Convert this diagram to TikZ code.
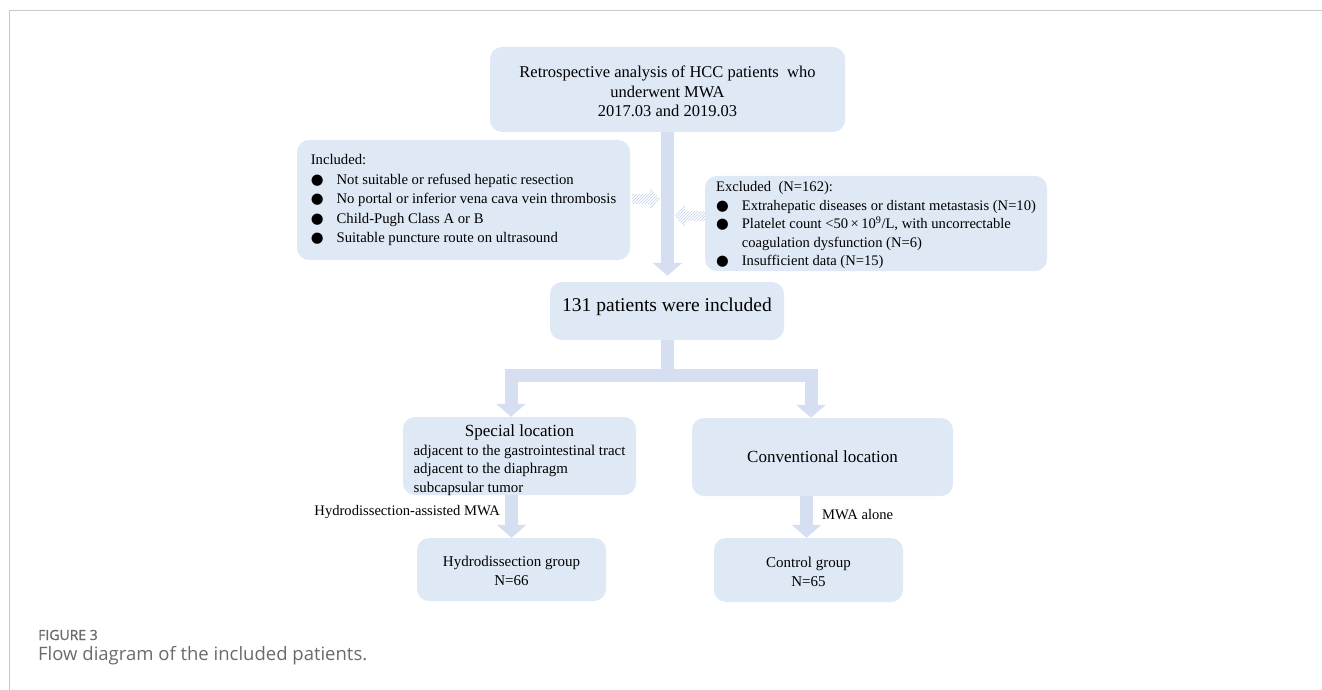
\documentclass[tikz,border=0pt]{standalone}
\usepackage{fontspec}
\setmainfont{Liberation Serif}
\newfontfamily\capfont{Open Sans}
\newfontfamily\capboldfont{Open Sans}[FakeBold=0.8]
\newfontfamily\symfont{DejaVu Sans}
\usetikzlibrary{arrows.meta,patterns,calc}

\definecolor{boxblue}{HTML}{DEE9F5}
\definecolor{arrowblue}{HTML}{D6DFF2}
\definecolor{hatchblue}{HTML}{C3CFEA}
\definecolor{framegray}{HTML}{C8C8C8}
\definecolor{capgray}{HTML}{6A6A6A}

\newcommand{\bul}{{\symfont\char"25CF}}

\begin{document}
\begin{tikzpicture}[
  x = 1pt, y = -1pt,
  box/.style = {
    fill = boxblue, rounded corners = 12pt,
    inner sep = 0pt, align = center
  },
  flow/.style = {
    draw = arrowblue, line width = 13pt, line join = miter,
    -{Triangle[length=13pt, width=29pt]}
  },
  bar/.style = {draw = arrowblue, line width = 13pt, line join = miter},
  hatch/.style = {pattern = north east lines, pattern color = hatchblue},
  lbl/.style = {inner sep = 0pt, font = \fontsize{14.6}{17}\selectfont}
]
  \useasboundingbox (0,0) rectangle (1322,690);
  \draw[framegray, line width = 1pt] (9,690) -- (9,11) -- (1322,11);

  % Knoten
  \node[box, minimum width = 355pt, minimum height = 85pt,
        font = \fontsize{16.5}{19.5}\selectfont] (top) at (667.5,89.5)
    {\rule{0pt}{16pt}Retrospective analysis of HCC patients\ \ who\\underwent MWA\\2017.03 and 2019.03};
  \node[box, minimum width = 333pt, minimum height = 120pt,
        font = \fontsize{14.7}{19.5}\selectfont] (inc) at (463.5,200)
    {\begin{tabular}{@{}l@{\hspace{13pt}}l@{}}
      \multicolumn{2}{@{}l@{}}{Included:}\\
      \bul & Not suitable or refused hepatic resection\\
      \bul & No portal or inferior vena cava vein thrombosis\\
      \bul & Child-Pugh Class A or B\\
      \bul & Suitable puncture route on ultrasound
    \end{tabular}};
  \node[box, minimum width = 342pt, minimum height = 89pt,
        font = \fontsize{14.6}{18.4}\selectfont] (exc) at (876,223.5)
    {\begin{tabular}{@{}l@{\hspace{13pt}}l@{}}
      \multicolumn{2}{@{}l@{}}{\rule{0pt}{16pt}Excluded\ \ (N=162):}\\
      \bul & Extrahepatic diseases or distant metastasis (N=10)\\
      \bul & Platelet count <50\,×\,10\textsuperscript{9}/L, with uncorrectable\\
           & coagulation dysfunction (N=6)\\
      \bul & Insufficient data (N=15)
    \end{tabular}};
  \node[box, minimum width = 234pt, minimum height = 58pt,
        font = \fontsize{19.5}{22}\selectfont] (mid) at (667,311)
    {\raisebox{4pt}[\height][\depth]{131 patients were included}};
  \node[box, minimum width = 233pt, minimum height = 78pt,
        font = \fontsize{14.9}{18.5}\selectfont] (spec) at (519.5,456)
    {\raisebox{-5pt}[\height][\depth]{\begin{tabular}{@{}l@{}}
      \multicolumn{1}{@{}c@{}}{\fontsize{17}{18.5}\selectfont Special location}\\
      adjacent to the gastrointestinal tract\\
      adjacent to the diaphragm\\
      subcapsular tumor
    \end{tabular}}};
  \node[box, minimum width = 261pt, minimum height = 78pt,
        font = \fontsize{17}{20}\selectfont] (conv) at (822.5,457)
    {Conventional location};
  \node[box, minimum width = 189pt, minimum height = 63pt,
        font = \fontsize{15}{19}\selectfont] (hyd) at (511.5,569.5)
    {\rule{0pt}{14pt}Hydrodissection group\\N=66};
  \node[box, minimum width = 189pt, minimum height = 64pt,
        font = \fontsize{15}{19}\selectfont] (ctl) at (808.5,570)
    {\rule{0pt}{14pt}Control group\\N=65};

  \node[lbl, anchor = east] (hlab) at (500,512) {Hydrodissection-assisted MWA};
  \node[lbl, anchor = west] (mlab) at (822,515) {MWA alone};

  \node[anchor = west, inner sep = 0pt, text = capgray,
        font = \capboldfont\fontsize{14}{16}\selectfont] (fig) at (38,635) {FIGURE 3};
  \node[anchor = west, inner sep = 0pt, text = capgray,
        font = \capfont\fontsize{18.5}{21}\selectfont] (cap) at (38,656)
    {Flow diagram of the included patients.};

  % Pfeile
  \coordinate (fork)  at (667,375);
  \coordinate (forkL) at (511,375);
  \coordinate (forkR) at (811,375);

  \draw[flow, shorten > = 6pt] (top.south) -- (top.south |- mid.north);
  \draw[bar] (mid.south) -- (fork);
  \draw[flow] (fork) -- (forkL) -- (forkL |- spec.north);
  \draw[flow] (fork) -- (forkR) -- (forkR |- conv.north);
  \draw[flow] (hyd.north |- spec.south) -- (hyd.north);
  \draw[flow] ([xshift = -2pt]ctl.north |- conv.south) -- ([xshift = -2pt]ctl.north);

  \path[hatch] ($(inc.east)+(2,-6)$) -- ++(18,0) -- ++(0,-6) -- ++(10,11)
    -- ++(-10,11) -- ++(0,-6) -- ++(-18,0) -- cycle;
  \path[hatch] ($(exc.west)+(-30,-7.5)$) -- ++(10,-11) -- ++(0,6) -- ++(20,0)
    -- ++(0,10) -- ++(-20,0) -- ++(0,6) -- cycle;
\end{tikzpicture}
\end{document}
